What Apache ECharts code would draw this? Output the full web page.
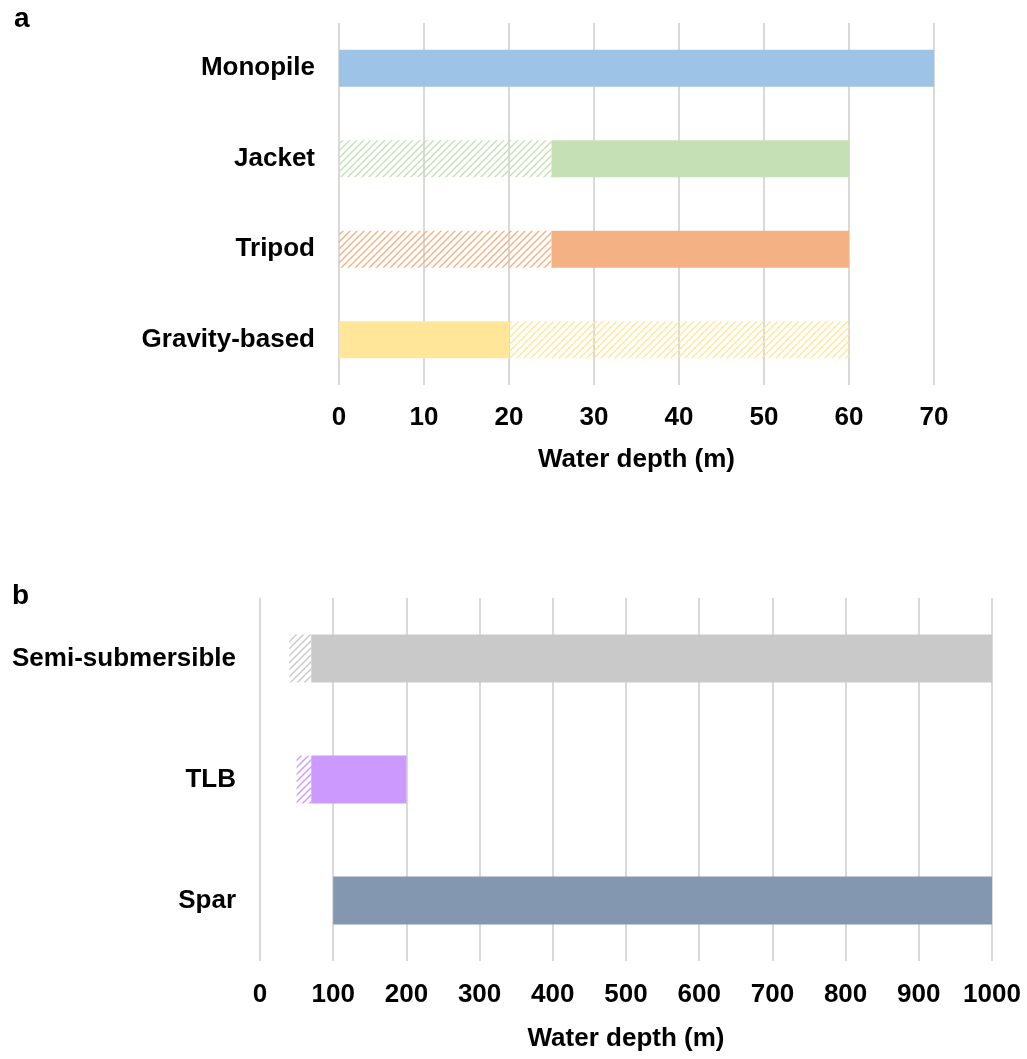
<!DOCTYPE html>
<html>
<head>
<meta charset="utf-8">
<script src="https://cdn.jsdelivr.net/npm/echarts@6/dist/echarts.min.js"></script>
<style>
  html, body { margin: 0; padding: 0; background: #fff; }
  #chart { width: 1027px; height: 1059px; }
</style>
</head>
<body>
<div id="chart"></div>
<script>
// Panel a: fixed-bottom foundations
const catsA = ['Monopile', 'Jacket', 'Tripod', 'Gravity-based'];
const colorsA = ['#9DC3E6', '#C5E0B4', '#F4B183', '#FFE699'];
const startA = [0, 0, 0, 0];        // where each bar begins
const splitA = [70, 25, 25, 20];    // boundary between first and second part
const endA = [70, 60, 60, 60];      // where each bar ends
const hatchA = ['none', 'first', 'first', 'second']; // which part is hatched
const ticksA = [0, 10, 20, 30, 40, 50, 60, 70];

// Panel b: floating foundations
const catsB = ['Semi-submersible', 'TLB', 'Spar'];
const colorsB = ['#C9C9C9', '#CC99FF', '#8497B0'];
const startB = [40, 50, 100];
const splitB = [70, 70, 100];
const endB = [1000, 200, 1000];
const hatchB = ['first', 'first', 'none'];
const ticksB = [0, 100, 200, 300, 400, 500, 600, 700, 800, 900, 1000];

function hatch(color) {
  const s = 7;
  const c = document.createElement('canvas');
  c.width = s; c.height = s;
  const g = c.getContext('2d');
  g.strokeStyle = color;
  g.lineWidth = 1.4;
  g.beginPath();
  g.moveTo(0, s); g.lineTo(s, 0);
  g.moveTo(-1, 1); g.lineTo(1, -1);
  g.moveTo(s - 1, s + 1); g.lineTo(s + 1, s - 1);
  g.stroke();
  return { image: c, repeat: 'repeat' };
}

function buildSeries(idx, start, split, end, colors, hatchFlags, width) {
  const base = start.map(v => ({ value: v, itemStyle: { color: 'rgba(0,0,0,0)' } }));
  const first = start.map((v, i) => ({
    value: split[i] - v,
    itemStyle: { color: hatchFlags[i] === 'first' ? hatch(colors[i]) : colors[i] }
  }));
  const second = split.map((v, i) => ({
    value: end[i] - v,
    itemStyle: { color: hatchFlags[i] === 'second' ? hatch(colors[i]) : colors[i] }
  }));
  const common = {
    type: 'bar', stack: 's' + idx, xAxisIndex: idx, yAxisIndex: idx,
    barWidth: width, silent: true
  };
  return [
    Object.assign({ data: base }, common),
    Object.assign({ data: first }, common),
    Object.assign({ data: second }, common)
  ];
}

const font = 'Liberation Sans, Arial, sans-serif';
const labelStyle = { color: '#000', fontWeight: 'bold', fontSize: 26, fontFamily: font };

function xAxis(idx, ticks, margin, gap) {
  return {
    gridIndex: idx, type: 'value',
    min: ticks[0], max: ticks[ticks.length - 1], interval: ticks[1] - ticks[0],
    name: 'Water depth (m)', nameLocation: 'middle', nameGap: gap,
    nameTextStyle: Object.assign({}, labelStyle),
    axisLine: { show: false }, axisTick: { show: false },
    axisLabel: Object.assign({ margin: margin, formatter: v => String(v) }, labelStyle),
    splitLine: { show: true, lineStyle: { color: '#D9D9D9', width: 2 } }
  };
}
function yAxis(idx, cats) {
  return {
    gridIndex: idx, type: 'category', data: cats, inverse: true,
    axisLine: { show: false }, axisTick: { show: false },
    axisLabel: Object.assign({ margin: 24 }, labelStyle),
    splitLine: { show: false }
  };
}

const chart = echarts.init(document.getElementById('chart'));
chart.setOption({
  animation: false,
  title: [
    { text: 'a', left: 9, top: 0, textStyle: Object.assign({}, labelStyle, { fontSize: 28 }) },
    { text: 'b', left: 7, top: 577, textStyle: Object.assign({}, labelStyle, { fontSize: 28 }) }
  ],
  grid: [
    { left: 339, right: 93, top: 23, height: 362 },
    { left: 260, right: 35, top: 598, height: 363 }
  ],
  xAxis: [xAxis(0, ticksA, 20, 62), xAxis(1, ticksB, 21, 65)],
  yAxis: [yAxis(0, catsA), yAxis(1, catsB)],
  series: [].concat(
    buildSeries(0, startA, splitA, endA, colorsA, hatchA, 37),
    buildSeries(1, startB, splitB, endB, colorsB, hatchB, 48)
  )
});
</script>
</body>
</html>
